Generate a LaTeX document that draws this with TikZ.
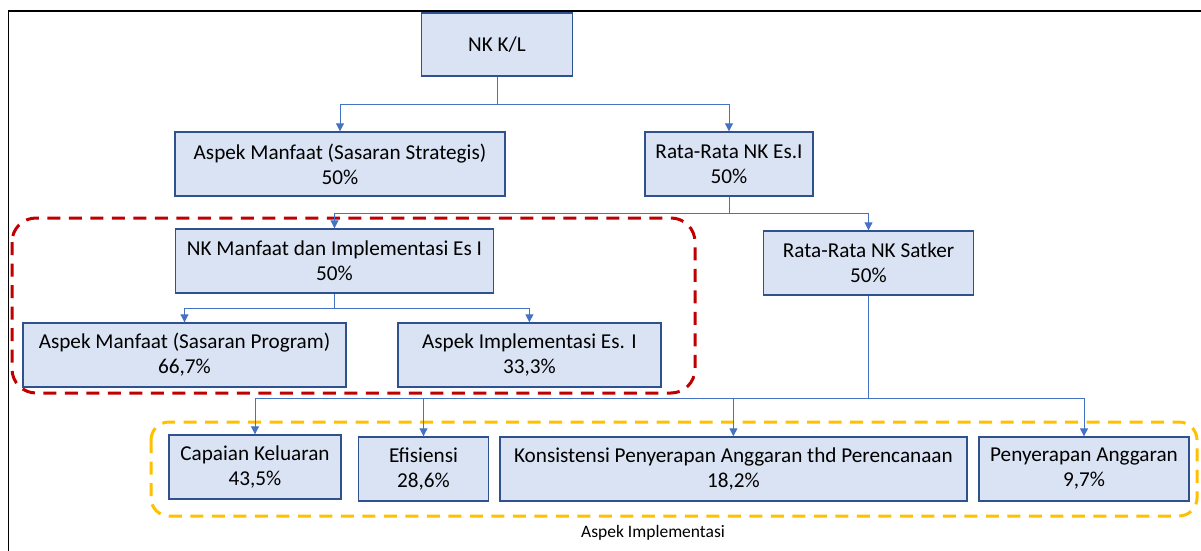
\documentclass[tikz,border=0pt]{standalone}
\usepackage{fontspec}
\setmainfont{Carlito}
\usepackage{tikz}
\usetikzlibrary{arrows.meta}

\definecolor{boxfill}{HTML}{DAE3F3}
\definecolor{boxline}{HTML}{2F528F}
\definecolor{linkblue}{HTML}{4472C4}
\definecolor{groupred}{HTML}{C00000}
\definecolor{groupyellow}{HTML}{FFC000}

\begin{document}
\begin{tikzpicture}[x=1pt,y=-1pt,>={Triangle[length=8pt,width=8pt]},
    kotak/.style={draw=boxline,fill=boxfill,line width=1.4pt,inner sep=0pt,
        align=center,minimum height=64pt,font=\fontsize{21.2}{25}\selectfont},
    hubung/.style={draw=linkblue,line width=1pt},
    grup/.style={line width=3pt,dash pattern=on 13pt off 8.5pt}]
    \useasboundingbox (0,0) rectangle (1201,551);
    \draw[line width=1.5pt] (8.4,551) -- (8.4,11) -- (1201,11);

    % kelompok bertitik
    \draw[grup,groupred,rounded corners=24pt] (12,218) rectangle (695,393);
    \draw[grup,groupyellow,rounded corners=18pt] (151,422) rectangle (1197,516);
    \node[font=\fontsize{17.5}{20}\selectfont] (lblimpl) at (653,533) {Aspek Implementasi};

    % kotak-kotak
    \node[kotak,minimum width=151pt,minimum height=63pt] (nkkl) at (497,44.5) {NK K/L};
    \node[kotak,minimum width=330pt] (manfaatss) at (340,164) {Aspek Manfaat (Sasaran Strategis)\\50\%};
    \node[kotak,minimum width=168pt] (rataes) at (729,164) {Rata-Rata NK Es.I\\50\%};
    \node[kotak,minimum width=318pt] (nkmi) at (334.5,261) {NK Manfaat dan Implementasi Es I\\50\%};
    \node[kotak,minimum width=210pt] (ratasatker) at (868.5,263) {Rata-Rata NK Satker\\50\%};
    \node[kotak,minimum width=323pt] (manfaatsp) at (184.5,355) {Aspek Manfaat (Sasaran Program)\\66,7\%};
    \node[kotak,minimum width=263pt] (implesi) at (529.4,355) {Aspek Implementasi Es. I\\33,3\%};
    \node[kotak,minimum width=172pt] (capaian) at (255,467) {Capaian Keluaran\\43,5\%};
    \node[kotak,minimum width=130pt] (efisiensi) at (423.5,469) {Efisiensi\\28,6\%};
    \node[kotak,minimum width=467pt] (konsistensi) at (733.4,469) {Konsistensi Penyerapan Anggaran thd Perencanaan\\18,2\%};
    \node[kotak,minimum width=210pt] (penyerapan) at (1084,469) {Penyerapan Anggaran\\9,7\%};

    % titik cabang
    \coordinate (c1) at (497,104);
    \coordinate (c2) at (729,213);
    \coordinate (c3) at (334.5,308);
    \coordinate (c4) at (868.5,398);

    \draw[hubung] (nkkl.south) -- (c1);
    \draw[hubung,->] (c1) -| (manfaatss.north);
    \draw[hubung,->] (c1) -| (rataes.north);

    \draw[hubung] (rataes.south) -- (c2);
    \draw[hubung,->] (c2) -| (nkmi.north);
    \draw[hubung,->] (c2) -| (ratasatker.north);

    \draw[hubung] (nkmi.south) -- (c3);
    \draw[hubung,->] (c3) -| (manfaatsp.north);
    \draw[hubung,->] (c3) -| (implesi.north);

    \draw[hubung,line width=1.4pt] (ratasatker.south) -- (c4);
    \draw[hubung,->] (c4) -| (capaian.north);
    \draw[hubung,->] (c4) -| (efisiensi.north);
    \draw[hubung,->] (c4) -| (konsistensi.north);
    \draw[hubung,->] (c4) -| (penyerapan.north);
\end{tikzpicture}
\end{document}
